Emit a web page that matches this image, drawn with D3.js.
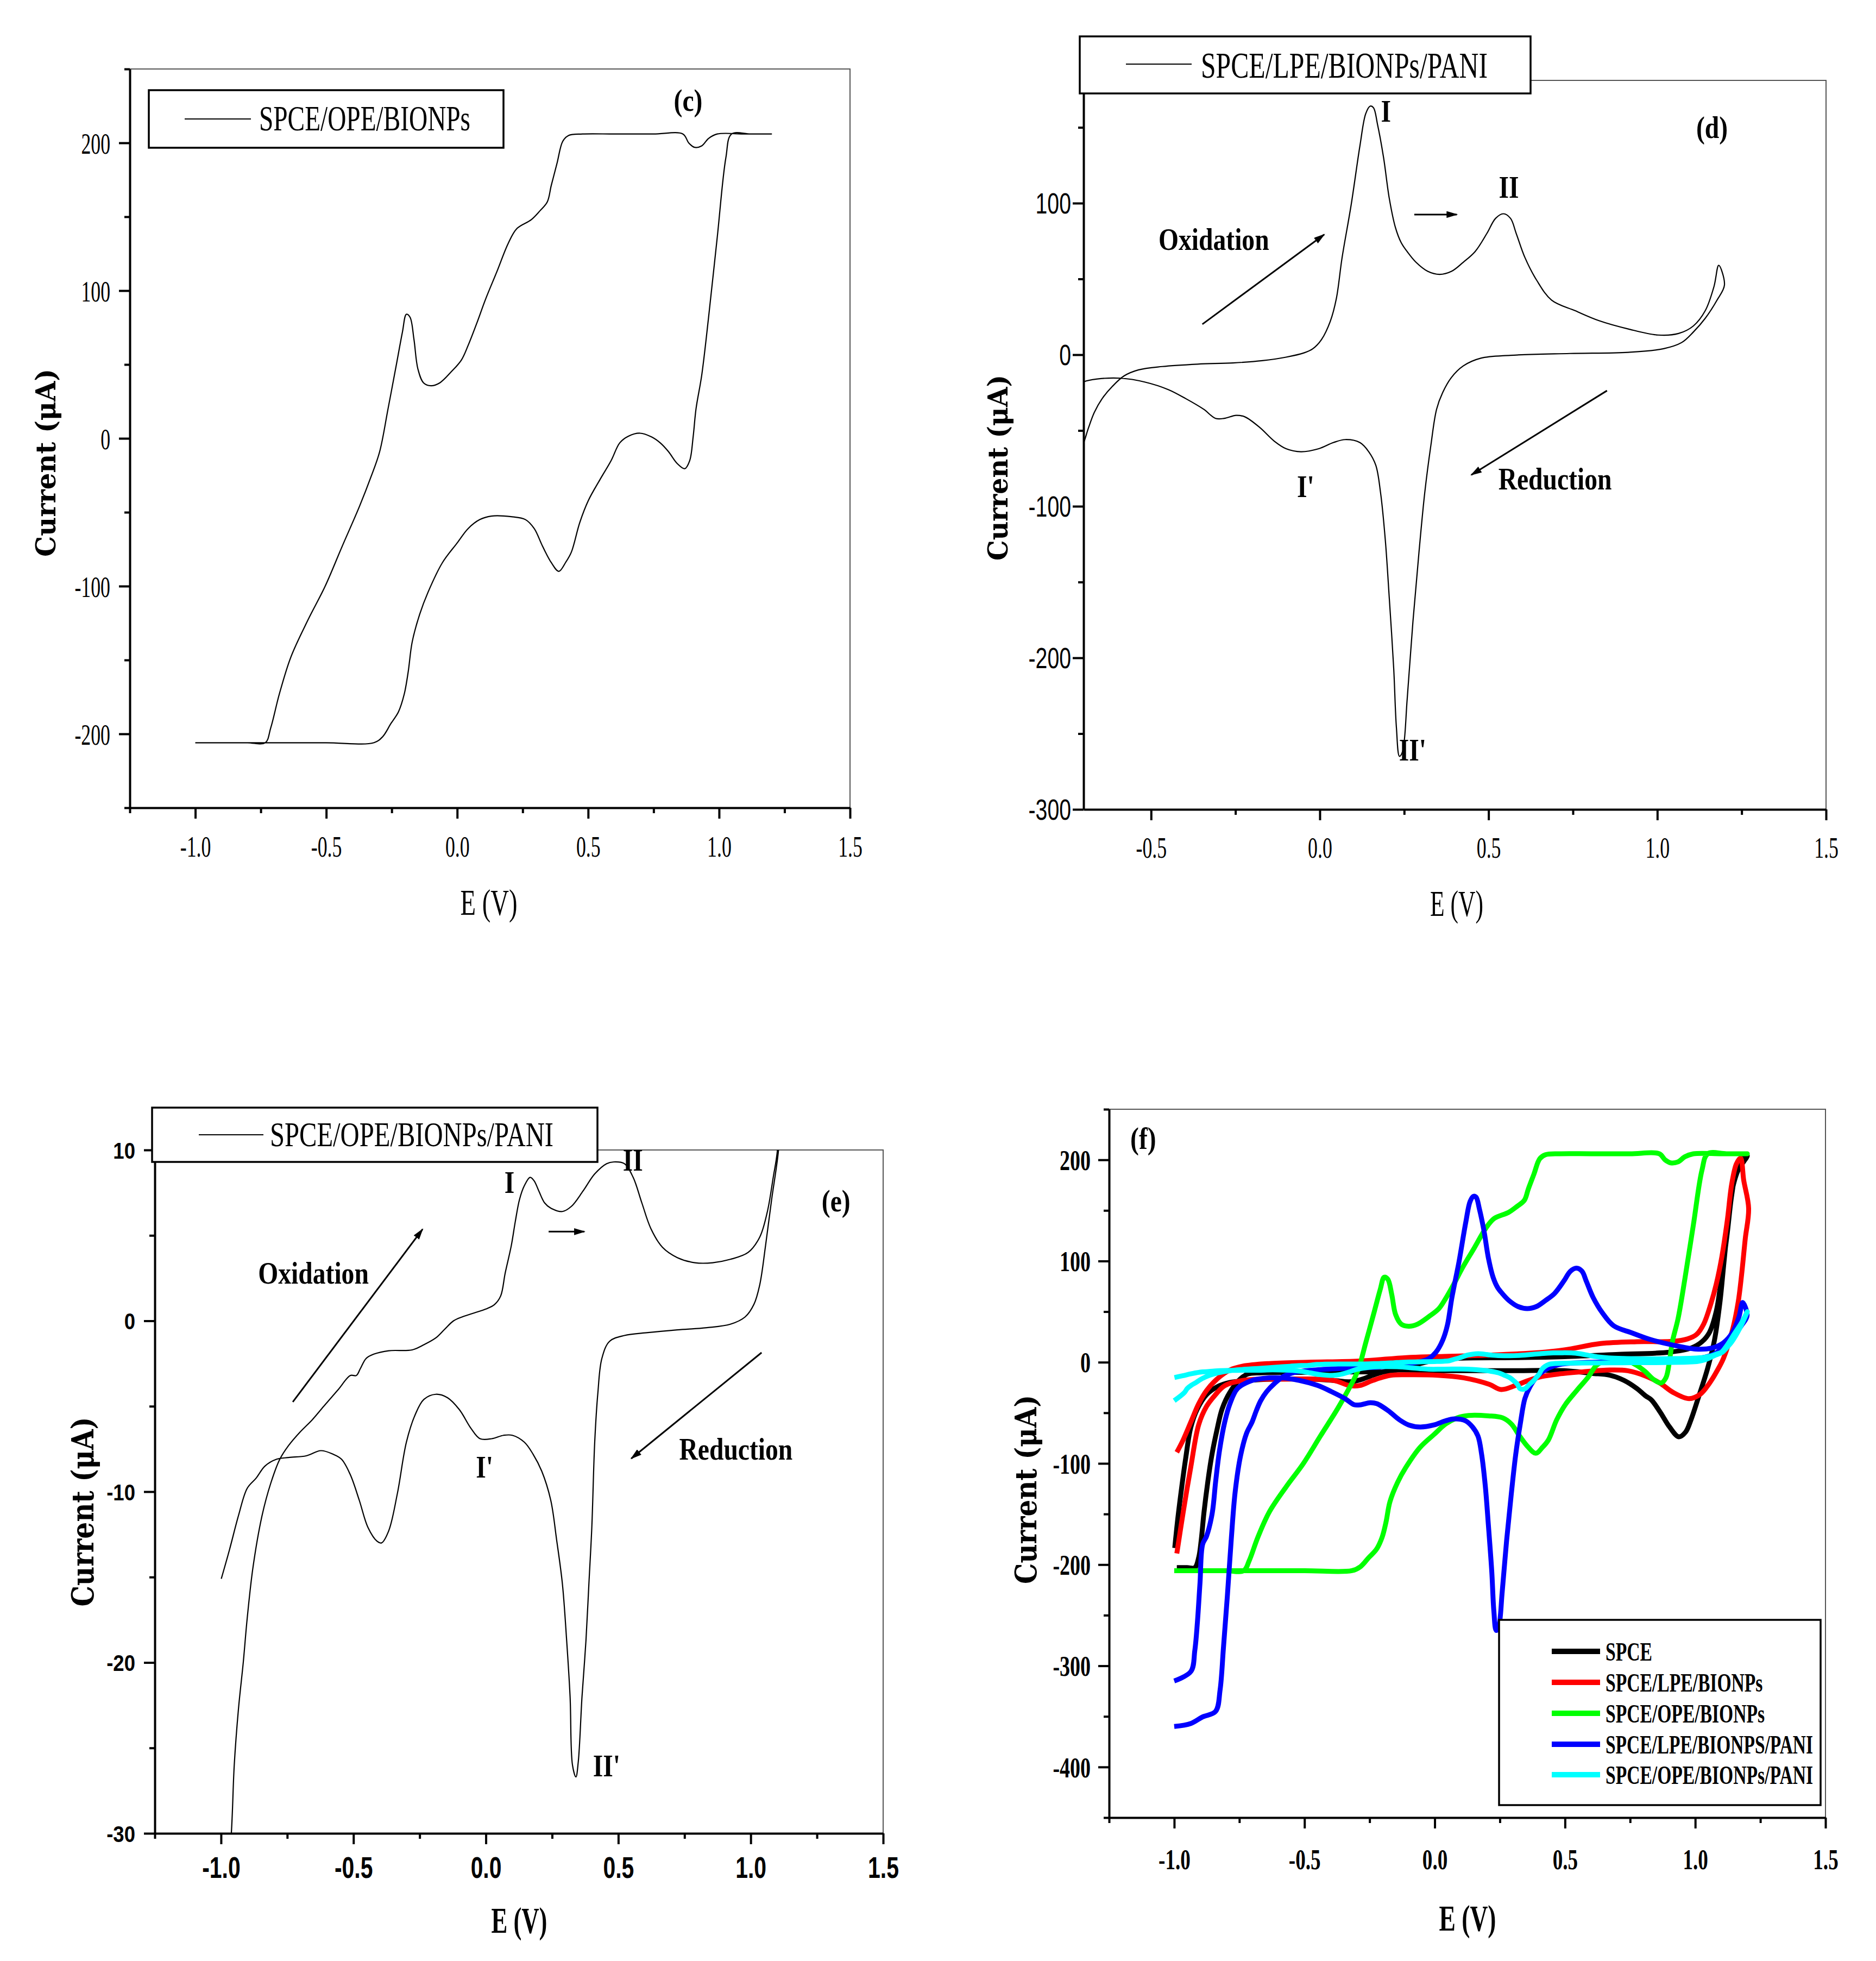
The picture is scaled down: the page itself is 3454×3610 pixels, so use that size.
<!DOCTYPE html>
<html>
<head>
<meta charset="utf-8">
<script src="https://cdn.jsdelivr.net/npm/d3@7"></script>
<style>
  body { margin: 0; background: #fff; }
</style>
</head>
<body>
<div id="chart"></div>
<script>
// ---- Data (E in V, I in uA) ----
// SPCE/OPE/BIONPs (panel c, green in f)
const opeBionpsFwd = [[-1.0,-206],[-0.9,-206],[-0.8,-206],[-0.733,-206],[-0.712,-196],[-0.679,-173],[-0.635,-148],[-0.570,-123],[-0.504,-100],[-0.439,-73],[-0.373,-46],[-0.329,-26],[-0.296,-9],[-0.264,20],[-0.231,51],[-0.209,72],[-0.194,84],[-0.180,82],[-0.165,67],[-0.150,47],[-0.128,37.5],[-0.100,35.6],[-0.067,37.5],[-0.023,45],[0.016,53],[0.042,63],[0.075,78],[0.108,94],[0.152,113],[0.195,132],[0.228,142],[0.283,148],[0.316,154],[0.344,160],[0.359,171],[0.381,186],[0.403,201],[0.425,205],[0.479,206],[0.6,206],[0.75,206],[0.862,206],[0.884,200],[0.906,197],[0.934,198],[0.960,203],[0.993,206],[1.1,206],[1.200,206]];
const opeBionpsRev = [[1.200,206],[1.12,206],[1.048,206],[1.026,190],[0.993,136],[0.960,82],[0.934,43],[0.912,20],[0.901,1],[0.888,-15],[0.869,-20.5],[0.840,-17],[0.807,-9],[0.775,-3],[0.742,1],[0.698,3.5],[0.654,1.5],[0.621,-3],[0.588,-15],[0.545,-28],[0.501,-42],[0.468,-57],[0.436,-77],[0.414,-84],[0.388,-90],[0.359,-84],[0.326,-73],[0.294,-61],[0.261,-55],[0.206,-53],[0.130,-52.6],[0.086,-55],[0.042,-61],[-0.001,-71],[-0.056,-84],[-0.111,-104],[-0.143,-119],[-0.172,-138],[-0.187,-158],[-0.202,-173],[-0.224,-185],[-0.253,-193],[-0.285,-202],[-0.318,-206],[-0.5,-206],[-0.75,-206],[-1.0,-206]];

// SPCE/LPE/BIONPs/PANI (panel d, blue in f)
const lpePaniFwd = [[-1.0,-360],[-0.936,-357],[-0.891,-350.5],[-0.841,-345],[-0.824,-324],[-0.811,-282],[-0.796,-231],[-0.781,-175],[-0.766,-128],[-0.745,-92],[-0.722,-70],[-0.701,-59],[-0.685,-48],[-0.668,-38],[-0.645,-29],[-0.615,-21],[-0.580,-14],[-0.537,-10],[-0.467,-7.8],[-0.362,-6.2],[-0.257,-5.4],[-0.170,-3.9],[-0.100,-1.6],[-0.047,1.2],[-0.021,3.9],[0.005,10],[0.031,22],[0.049,37],[0.066,64],[0.093,99],[0.119,138],[0.136,159],[0.149,164],[0.159,163],[0.171,152],[0.189,130],[0.206,103],[0.224,84],[0.241,74],[0.259,68],[0.285,61],[0.320,55],[0.355,53],[0.390,55],[0.425,61],[0.460,68],[0.495,80],[0.521,90],[0.544,93],[0.565,90],[0.582,80],[0.608,64],[0.643,49],[0.687,36],[0.757,29],[0.827,22.5],[0.914,17],[1.002,13],[1.063,14],[1.107,19],[1.142,29],[1.168,45],[1.182,59],[1.199,46]];
const lpePaniRev = [[1.199,46],[1.177,36],[1.142,24],[1.107,15],[1.072,8],[1.019,4],[0.914,1.6],[0.740,0.8],[0.565,-0.4],[0.477,-2.3],[0.425,-7.4],[0.390,-15],[0.364,-25],[0.346,-36],[0.329,-60],[0.311,-91],[0.294,-130],[0.276,-176],[0.259,-227],[0.245,-262],[0.236,-265],[0.227,-246],[0.219,-207],[0.206,-161],[0.194,-122],[0.180,-91],[0.166,-73],[0.145,-64],[0.119,-58],[0.075,-56],[0.040,-58],[-0.003,-62],[-0.056,-64],[-0.100,-62],[-0.135,-57],[-0.178,-48],[-0.222,-41],[-0.248,-40],[-0.283,-42],[-0.309,-42],[-0.344,-36],[-0.397,-29],[-0.449,-23],[-0.519,-18],[-0.589,-15.5],[-0.659,-16],[-0.701,-18],[-0.757,-26],[-0.786,-41],[-0.806,-59],[-0.826,-87],[-0.841,-118],[-0.854,-149],[-0.876,-172],[-0.891,-180],[-0.901,-218],[-0.911,-257],[-0.921,-285],[-0.936,-305.6],[-1.0,-315]];

// SPCE/OPE/BIONPs/PANI (panel e, cyan in f)
const opePaniFwd = [[-1.0,-38],[-0.961,-30],[-0.950,-26],[-0.934,-22.7],[-0.916,-20],[-0.901,-17.4],[-0.879,-14.4],[-0.845,-11.4],[-0.812,-9.5],[-0.778,-8.1],[-0.745,-7.3],[-0.701,-6.5],[-0.656,-5.8],[-0.612,-5.0],[-0.556,-4.0],[-0.512,-3.2],[-0.489,-3.2],[-0.474,-2.8],[-0.452,-2.2],[-0.423,-1.95],[-0.367,-1.75],[-0.278,-1.7],[-0.234,-1.4],[-0.189,-1.0],[-0.156,-0.5],[-0.122,0.0],[-0.089,0.23],[-0.044,0.46],[0.0,0.69],[0.033,0.96],[0.056,1.46],[0.073,2.8],[0.096,4.4],[0.111,5.8],[0.127,7.1],[0.145,7.9],[0.167,8.4],[0.182,8.2],[0.200,7.6],[0.222,6.9],[0.245,6.6],[0.289,6.4],[0.323,6.7],[0.367,7.6],[0.411,8.6],[0.456,9.2],[0.483,9.3],[0.523,9.2],[0.556,8.4],[0.589,6.9],[0.623,5.4],[0.667,4.3],[0.723,3.7],[0.790,3.4],[0.856,3.4],[0.923,3.6],[0.990,4.0],[1.034,4.9],[1.063,6.4],[1.085,8.4],[1.101,10.0],[1.12,16],[1.15,28],[1.18,40],[1.2,50]];
const opePaniRev = [[1.2,47],[1.17,33],[1.14,20],[1.12,14],[1.105,10.0],[1.079,7.1],[1.056,4.4],[1.034,2.1],[1.012,0.96],[0.979,0.23],[0.923,-0.2],[0.834,-0.4],[0.723,-0.53],[0.612,-0.69],[0.523,-0.86],[0.467,-1.2],[0.438,-2.2],[0.423,-4.2],[0.411,-7.1],[0.400,-12.1],[0.389,-15.4],[0.378,-18.7],[0.363,-22.0],[0.349,-25.8],[0.340,-26.7],[0.327,-26.0],[0.318,-22.0],[0.305,-18.7],[0.289,-15.4],[0.267,-12.8],[0.245,-10.5],[0.211,-8.8],[0.178,-7.8],[0.145,-7.1],[0.100,-6.7],[0.067,-6.7],[0.022,-6.9],[-0.022,-6.9],[-0.056,-6.3],[-0.100,-5.2],[-0.145,-4.5],[-0.189,-4.3],[-0.234,-4.6],[-0.267,-5.5],[-0.300,-7.1],[-0.334,-10.1],[-0.367,-12.3],[-0.394,-13.0],[-0.411,-12.9],[-0.445,-12.1],[-0.478,-10.5],[-0.512,-9.0],[-0.545,-8.1],[-0.578,-7.8],[-0.623,-7.6],[-0.678,-7.9],[-0.745,-8.0],[-0.790,-8.1],[-0.834,-8.5],[-0.867,-9.2],[-0.901,-9.8],[-0.934,-11.4],[-0.968,-13.4],[-0.999,-15.1]];

// SPCE (black in f)
const spceFwd = [[-0.99,-203],[-0.95,-203],[-0.921,-203],[-0.906,-193],[-0.896,-175],[-0.886,-149],[-0.871,-118],[-0.856,-92.5],[-0.836,-67],[-0.816,-46],[-0.786,-29.6],[-0.747,-16.7],[-0.717,-11.6],[-0.667,-10.5],[-0.5,-10],[-0.3,-9.5],[-0.17,-9],[-0.08,-3],[0.0,2],[0.1,4],[0.3,4.5],[0.498,5.5],[0.706,7.7],[0.9,9.9],[0.984,14],[1.026,20.3],[1.054,29.2],[1.081,50.7],[1.102,86.5],[1.123,127.6],[1.14,165],[1.16,192],[1.18,201],[1.2,204]];
const spceRev = [[1.2,204],[1.165,190],[1.147,176],[1.137,161.6],[1.123,131],[1.109,95.4],[1.095,59.6],[1.074,22],[1.047,-6.6],[1.012,-35],[0.984,-56.7],[0.963,-69],[0.937,-73.7],[0.901,-63.8],[0.866,-49.5],[0.831,-37],[0.810,-33.4],[0.776,-26],[0.727,-18],[0.672,-12.8],[0.602,-11],[0.498,-8.4],[0.3,-8.3],[0.011,-8.3],[-0.139,-7.7],[-0.189,-9],[-0.238,-12.9],[-0.288,-17.5],[-0.328,-19.3],[-0.388,-18],[-0.487,-16.7],[-0.587,-16.7],[-0.687,-17.5],[-0.786,-20],[-0.836,-24.4],[-0.876,-32],[-0.911,-46],[-0.936,-64],[-0.956,-95],[-0.971,-123],[-0.986,-154],[-0.998,-183.6]];

// SPCE/LPE/BIONPs (red in f)
const lpeBionpsFwd = [[-0.99,-89],[-0.966,-77],[-0.936,-59],[-0.906,-41],[-0.876,-28],[-0.836,-16.7],[-0.786,-7.7],[-0.737,-3.9],[-0.637,-1.3],[-0.487,0],[-0.288,1.2],[-0.109,4.6],[0.011,5.6],[0.2,7],[0.4,9.5],[0.498,12.2],[0.637,18.5],[0.776,20.3],[0.914,20.6],[0.97,23],[1.005,27.4],[1.033,38],[1.06,57.8],[1.081,77.5],[1.102,104],[1.123,140],[1.14,176],[1.158,196],[1.174,201.7],[1.186,180],[1.205,152]];
const lpeBionpsRev = [[1.205,152],[1.192,122],[1.178,86.5],[1.165,59.6],[1.144,32.8],[1.109,4.2],[1.088,-6.6],[1.054,-21],[1.019,-31.7],[0.977,-36],[0.915,-29.8],[0.866,-20.9],[0.810,-13.7],[0.741,-8.4],[0.672,-7.7],[0.567,-9.5],[0.477,-11.6],[0.41,-14.2],[0.36,-18],[0.31,-23],[0.255,-27],[0.21,-21.9],[0.11,-15.4],[0.011,-12.9],[-0.089,-12.4],[-0.169,-12.9],[-0.238,-18],[-0.288,-23],[-0.328,-23],[-0.388,-18],[-0.587,-16.7],[-0.737,-18],[-0.806,-23.2],[-0.846,-33.4],[-0.876,-43.7],[-0.906,-61.7],[-0.936,-103],[-0.966,-149],[-0.99,-189]];

// Tick values
const xMajorFull = [-1.0, -0.5, 0, 0.5, 1.0, 1.5];
const xMinorFull = [-1.25, -0.75, -0.25, 0.25, 0.75, 1.25];
const xMajorD = [-0.5, 0, 0.5, 1.0, 1.5];
const xMinorD = [-0.25, 0.25, 0.75, 1.25];
const yMajorC = [-200, -100, 0, 100, 200];
const yMinorC = [-250, -150, -50, 50, 150, 250];
const yMajorD = [-300, -200, -100, 0, 100];
const yMinorD = [-250, -150, -50, 50, 150];
const yMajorE = [-30, -20, -10, 0, 10];
const yMinorE = [-25, -15, -5, 5];
const yMajorF = [-400, -300, -200, -100, 0, 100, 200];
const yMinorF = [-450, -350, -250, -150, -50, 50, 150, 250];

// Legend names and colours for (f)
const seriesNames = ['SPCE', 'SPCE/LPE/BIONPs', 'SPCE/OPE/BIONPs', 'SPCE/LPE/BIONPS/PANI', 'SPCE/OPE/BIONPs/PANI'];
const seriesColors = ['#000000', '#ff0000', '#00ff00', '#0000ff', '#00ffff'];

// Annotations [text, E, I]
const cNotes = [['(c)', 0.882, 221.7]];
const dNotes = [['I', 0.196, 153.6], ['II', 0.560, 103.7], ["I'", -0.042, -94], ["II'", 0.275, -267.7],
  ['Oxidation', -0.314, 69], ['Reduction', 0.697, -89], ['(d)', 1.162, 143]];
const dArrows = [[0.280, 92.5, 0.406, 92.5], [-0.348, 20.1, 0.013, 79.3], [0.851, -23.7, 0.449, -79.3]];
const eNotes = [['I', 0.089, 7.49], ['II', 0.555, 8.8], ["I'", -0.005, -9.17], ["II'", 0.456, -26.66],
  ['Oxidation', -0.651, 2.18], ['Reduction', 0.944, -8.12], ['(e)', 1.322, 6.4]];
const eArrows = [[0.237, 5.22, 0.372, 5.22], [-0.729, -4.75, -0.239, 5.36], [1.041, -1.86, 0.549, -8.06]];
const fNotes = [['(f)', -1.119, 210.8]];

// ---- Drawing ----
const W = 3454, H = 3610;
const SERIF = '"Liberation Serif", "Times New Roman", serif';
const SANS = '"Liberation Sans", Arial, sans-serif';
const WIDE = '"DejaVu Serif", serif';

const svg = d3.select('#chart').append('svg')
  .attr('width', W).attr('height', H)
  .attr('viewBox', `0 0 ${W} ${H}`);
svg.append('rect').attr('width', W).attr('height', H).attr('fill', '#fff');

const defs = svg.append('defs');
defs.append('marker')
  .attr('id', 'arrow')
  .attr('viewBox', '0 0 10 6')
  .attr('refX', 9).attr('refY', 3)
  .attr('markerWidth', 7).attr('markerHeight', 4.2)
  .attr('orient', 'auto')
  .append('path').attr('d', 'M0,0L10,3L0,6Z').attr('fill', '#000');

const cycle = (fwd, rev) => fwd.concat(rev.slice(1));
const fmtX = d => (d < 0 ? '-' : '') + Math.abs(d).toFixed(1);
const fmtY = d => (d < 0 ? '-' : '') + Math.abs(d);

// narrow the text like the condensed export
function squeeze(sel, k, maxLen) {
  sel.each(function() {
    let w = this.getComputedTextLength() * k;
    if (maxLen) w = Math.min(w, maxLen);
    if (w > 0) d3.select(this).attr('textLength', w).attr('lengthAdjust', 'spacingAndGlyphs');
  });
}

function addText(parent, t, o) {
  const el = parent.append('text')
    .attr('x', o.x).attr('y', o.y)
    .attr('font-family', o.family)
    .attr('font-size', o.size)
    .attr('font-weight', o.weight || 'normal')
    .attr('text-anchor', o.anchor || 'start')
    .attr('fill', '#000')
    .text(t);
  if (o.dy) el.attr('dy', o.dy);
  if (o.rotate) el.attr('transform', `rotate(${o.rotate},${o.x},${o.y})`);
  if (o.len) el.attr('textLength', o.len).attr('lengthAdjust', 'spacingAndGlyphs');
  else if (o.k) squeeze(el, o.k);
  return el;
}

function drawPanel(cfg) {
  const b = cfg.box;
  const x = d3.scaleLinear().domain(cfg.xDomain).range([b.left, b.right]);
  const y = d3.scaleLinear().domain(cfg.yDomain).range([b.bottom, b.top]);
  const g = svg.append('g').attr('class', 'panel-' + cfg.id);

  defs.append('clipPath').attr('id', 'clip-' + cfg.id)
    .append('rect')
    .attr('x', b.left).attr('y', b.top)
    .attr('width', b.right - b.left).attr('height', b.bottom - b.top);

  // thin top/right frame
  g.append('path')
    .attr('d', `M${b.left},${b.top}H${b.right}V${b.bottom}`)
    .attr('fill', 'none').attr('stroke', '#555').attr('stroke-width', 2);

  // curves
  const line = d3.line()
    .x(d => x(d[0])).y(d => y(d[1]))
    .curve(d3.curveCatmullRom.alpha(0.5));
  const curves = g.append('g').attr('clip-path', `url(#clip-${cfg.id})`);
  cfg.series.forEach(s => {
    curves.append('path')
      .attr('d', line(s.points))
      .attr('fill', 'none')
      .attr('stroke', s.color)
      .attr('stroke-width', s.width)
      .attr('stroke-linejoin', 'round');
  });

  // x axis
  const xMinorAxis = g.append('g').attr('transform', `translate(0,${b.bottom})`)
    .call(d3.axisBottom(x).tickValues(cfg.xMinor).tickSize(10).tickFormat(''));
  xMinorAxis.select('.domain').remove();
  const xAxis = g.append('g').attr('transform', `translate(0,${b.bottom})`)
    .call(d3.axisBottom(x).tickValues(cfg.xMajor).tickSize(20).tickSizeOuter(0).tickFormat(fmtX));
  const t = cfg.xTick;
  xAxis.selectAll('text')
    .attr('y', t.off).attr('dy', 0)
    .attr('font-family', t.family).attr('font-size', t.size).attr('font-weight', t.weight)
    .attr('fill', '#000');
  squeeze(xAxis.selectAll('text'), t.k);

  // y axis
  const yMinorAxis = g.append('g').attr('transform', `translate(${b.left},0)`)
    .call(d3.axisLeft(y).tickValues(cfg.yMinor).tickSize(10).tickFormat(''));
  yMinorAxis.select('.domain').remove();
  const yAxis = g.append('g').attr('transform', `translate(${b.left},0)`)
    .call(d3.axisLeft(y).tickValues(cfg.yMajor).tickSize(20).tickSizeOuter(0).tickFormat(fmtY));
  const u = cfg.yTick;
  yAxis.selectAll('text')
    .attr('x', -u.off).attr('dy', '0.35em')
    .attr('font-family', u.family).attr('font-size', u.size).attr('font-weight', u.weight)
    .attr('fill', '#000');
  squeeze(yAxis.selectAll('text'), u.k);

  [xAxis, yAxis, xMinorAxis, yMinorAxis].forEach(a => {
    a.selectAll('.tick line').attr('stroke', '#000').attr('stroke-width', 4);
    a.select('.domain').attr('stroke', '#000').attr('stroke-width', 4);
  });

  // axis titles
  addText(g, 'E (V)', Object.assign({ anchor: 'middle' }, cfg.xTitle));
  addText(g, 'Current (\u03bcA)', Object.assign({ anchor: 'middle', rotate: -90, dy: '0.35em',
    family: WIDE, weight: 'bold' }, cfg.yTitle));

  // single-entry legend box
  if (cfg.legend) {
    const L = cfg.legend;
    g.append('rect')
      .attr('x', L.x0).attr('y', L.y0)
      .attr('width', L.x1 - L.x0).attr('height', L.y1 - L.y0)
      .attr('fill', '#fff').attr('stroke', '#000').attr('stroke-width', 3.5);
    g.append('line')
      .attr('x1', L.lx0).attr('x2', L.lx1).attr('y1', L.ly).attr('y2', L.ly)
      .attr('stroke', '#000').attr('stroke-width', 2);
    addText(g, L.text, { x: L.tx, y: L.ty, family: SERIF, size: L.size, len: L.len });
  }

  // annotations
  (cfg.notes || []).forEach(([txt, e, i]) => {
    addText(g, txt, { x: x(e), y: y(i), anchor: 'middle', family: SERIF, weight: 'bold',
      size: 58, k: 0.82 });
  });
  (cfg.arrows || []).forEach(([e0, i0, e1, i1]) => {
    g.append('line')
      .attr('x1', x(e0)).attr('y1', y(i0)).attr('x2', x(e1)).attr('y2', y(i1))
      .attr('stroke', '#000').attr('stroke-width', 3)
      .attr('marker-end', 'url(#arrow)');
  });

  return { x, y, g };
}

const thin = 2.2;

// (c)
drawPanel({
  id: 'c',
  box: { left: 239, right: 1565, top: 127, bottom: 1487 },
  xDomain: [-1.25, 1.5], yDomain: [-250, 250],
  xMajor: xMajorFull, xMinor: xMinorFull, yMajor: yMajorC, yMinor: yMinorC,
  xTick: { family: SERIF, size: 55, weight: 'normal', off: 90, k: 0.65 },
  yTick: { family: SERIF, size: 55, weight: 'normal', off: 36, k: 0.65 },
  xTitle: { x: 900, y: 1684, family: SERIF, size: 67, len: 105 },
  yTitle: { x: 84, y: 852, size: 50, len: 346 },
  series: [{ points: cycle(opeBionpsFwd, opeBionpsRev), color: '#000', width: thin }],
  legend: { x0: 274, x1: 927, y0: 166, y1: 272, lx0: 340, lx1: 462, ly: 219,
    tx: 477, ty: 240, size: 65, len: 389, text: 'SPCE/OPE/BIONPs' },
  notes: cNotes
});

// (d)
drawPanel({
  id: 'd',
  box: { left: 1995, right: 3362, top: 148, bottom: 1490 },
  xDomain: [-0.7, 1.5], yDomain: [-300, 181],
  xMajor: xMajorD, xMinor: xMinorD, yMajor: yMajorD, yMinor: yMinorD,
  xTick: { family: SERIF, size: 55, weight: 'normal', off: 89, k: 0.65 },
  yTick: { family: SANS, size: 53, weight: 'normal', off: 23, k: 0.74 },
  xTitle: { x: 2682, y: 1686, family: SERIF, size: 67, len: 98 },
  yTitle: { x: 1837, y: 861, size: 50, len: 342 },
  series: [{ points: cycle(lpePaniFwd, lpePaniRev), color: '#000', width: thin }],
  legend: { x0: 1988, x1: 2818, y0: 67, y1: 172, lx0: 2073, lx1: 2194, ly: 118,
    tx: 2211, ty: 143, size: 68, len: 528, text: 'SPCE/LPE/BIONPs/PANI' },
  notes: dNotes, arrows: dArrows
});

// (e)
drawPanel({
  id: 'e',
  box: { left: 285, right: 1626, top: 2117, bottom: 3375 },
  xDomain: [-1.25, 1.5], yDomain: [-30, 10],
  xMajor: xMajorFull, xMinor: xMinorFull, yMajor: yMajorE, yMinor: yMinorE,
  xTick: { family: SANS, size: 56, weight: 'bold', off: 82, k: 0.73 },
  yTick: { family: SANS, size: 43, weight: 'bold', off: 36, k: 0.85 },
  xTitle: { x: 956, y: 3558, family: SERIF, size: 68, weight: 'bold', len: 103 },
  yTitle: { x: 152, y: 2783, size: 56, len: 349 },
  series: [{ points: cycle(opePaniFwd, opePaniRev), color: '#000', width: thin }],
  legend: { x0: 280, x1: 1100, y0: 2039, y1: 2139, lx0: 366, lx1: 485, ly: 2089,
    tx: 497, ty: 2110, size: 63, len: 522, text: 'SPCE/OPE/BIONPs/PANI' },
  notes: eNotes, arrows: eArrows
});

// (f)
const fSeries = [
  cycle(spceFwd, spceRev),
  cycle(lpeBionpsFwd, lpeBionpsRev),
  cycle(opeBionpsFwd, opeBionpsRev),
  cycle(lpePaniFwd, lpePaniRev),
  cycle(opePaniFwd, opePaniRev)
].map((pts, i) => ({ points: pts, color: seriesColors[i], width: 9 }));

const pf = drawPanel({
  id: 'f',
  box: { left: 2042, right: 3361, top: 2042, bottom: 3346 },
  xDomain: [-1.25, 1.5], yDomain: [-450, 250],
  xMajor: xMajorFull, xMinor: xMinorFull, yMajor: yMajorF, yMinor: yMinorF,
  xTick: { family: SERIF, size: 53, weight: 'bold', off: 95, k: 0.7 },
  yTick: { family: SERIF, size: 52, weight: 'bold', off: 34, k: 0.73 },
  xTitle: { x: 2702, y: 3554, family: SERIF, size: 68, weight: 'bold', len: 105 },
  yTitle: { x: 1889, y: 2742, size: 54, len: 348 },
  series: fSeries,
  notes: fNotes
});

// multi-entry legend of (f)
const lg = pf.g.append('g');
const legendRows = [3040, 3097, 3154, 3211, 3267];
lg.append('rect')
  .attr('x', 2760).attr('y', 2982).attr('width', 592).attr('height', 341)
  .attr('fill', '#fff').attr('stroke', '#000').attr('stroke-width', 3.5);
const rows = lg.selectAll('g.row').data(seriesNames).join('g').attr('class', 'row');
rows.append('line')
  .attr('x1', 2857).attr('x2', 2946)
  .attr('y1', (d, i) => legendRows[i]).attr('y2', (d, i) => legendRows[i])
  .attr('stroke', (d, i) => seriesColors[i]).attr('stroke-width', 10);
rows.append('text')
  .attr('x', 2956).attr('y', (d, i) => legendRows[i] + 17)
  .attr('font-family', SERIF).attr('font-size', 48).attr('font-weight', 'bold')
  .text(d => d);
squeeze(rows.selectAll('text'), 0.7, 382);
</script>
</body>
</html>
